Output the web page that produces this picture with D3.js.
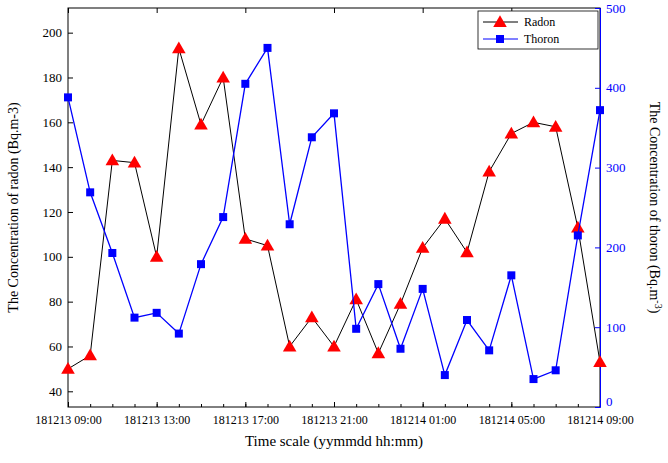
<!DOCTYPE html>
<html>
<head>
<meta charset="utf-8">
<style>
body{margin:0;background:#fff;}
text{font-family:"Liberation Serif","Times New Roman",serif;}
</style>
</head>
<body>
<svg id="chart" width="668" height="463"></svg>
<script src="https://d3js.org/d3.v7.min.js"></script>
<script>
// hours after 181213 09:00
var hours=d3.range(0,25);
var radon=[50,56,143,142,100,193,159,180,108,105,60,73,60,81,57,79,104,117,102,138,155,160,158,113,53];
var thoron=[388,269,193,112,118,92,179,238,405,450,229,338,368,98,154,73,148,40,109,71,165,35,46,215,372];
var xTickHours=[0,4,8,12,16,20,24];
var xTickLabels=["181213 09:00","181213 13:00","181213 17:00","181213 21:00","181214 01:00","181214 05:00","181214 09:00"];
var leftTicks=[40,60,80,100,120,140,160,180,200];
var rightTicks=[0,100,200,300,400,500];

var L=68,R=600,T=8,B=407;
var svg=d3.select("#chart");
var x=d3.scaleLinear().domain([0,24]).range([L,R]);
var yL=d3.scaleLinear().domain([33,211]).range([B,T]);
var yR=d3.scaleLinear().domain([0,500]).range([B,T]);

svg.append("rect").attr("x",L).attr("y",T).attr("width",R-L).attr("height",B-T)
  .attr("fill","none").attr("stroke","#000");

var serif="Liberation Serif, Times New Roman, serif";

// x axis
var xa=svg.append("g").attr("transform","translate(0,"+B+")")
  .call(d3.axisBottom(x).tickValues(xTickHours).tickSize(-5).tickPadding(8)
    .tickFormat(function(d,i){return xTickLabels[i];}));
xa.attr("font-family",serif).selectAll("text").attr("font-size",12).attr("fill","#000");
xa.select(".domain").remove();
svg.append("g").attr("transform","translate(0,"+B+")")
  .call(d3.axisBottom(x).tickValues(hours).tickSize(-3).tickFormat(""))
  .select(".domain").remove();
svg.append("g").attr("transform","translate(0,"+T+")")
  .call(d3.axisTop(x).tickValues(xTickHours).tickSize(-5).tickFormat(""))
  .select(".domain").remove();

// left axis
var la=svg.append("g").attr("transform","translate("+L+",0)")
  .call(d3.axisLeft(yL).tickValues(leftTicks).tickSize(-5).tickPadding(6));
la.attr("font-family",serif).selectAll("text").attr("font-size",13).attr("fill","#000");
la.select(".domain").remove();

// right axis (blue)
var ra=svg.append("g").attr("transform","translate("+R+",0)")
  .call(d3.axisRight(yR).tickValues(rightTicks).tickSize(-5).tickPadding(6));
ra.attr("font-family",serif).selectAll("text").attr("font-size",13).attr("fill","#0000ff");
ra.selectAll(".tick text").filter(function(d){return d===0;}).attr("dy","-0.1em");
ra.selectAll("line").attr("stroke","#0000ff");
ra.select(".domain").attr("stroke","#0000ff");

// titles
svg.append("text").attr("x",(L+R)/2).attr("y",446).attr("text-anchor","middle")
  .attr("font-size",15).text("Time scale (yymmdd hh:mm)");
svg.append("text").attr("transform","translate(18,"+(T+B)/2+") rotate(-90)")
  .attr("text-anchor","middle").attr("font-size",14).text("The Concentration of radon (Bq.m-3)");
var rt=svg.append("text").attr("transform","translate(650,"+(T+B)/2+") rotate(90)")
  .attr("text-anchor","middle").attr("font-size",14);
rt.append("tspan").text("The Concentration of thoron (Bq.m");
rt.append("tspan").attr("dy",-5).attr("font-size",10).text("-3");
rt.append("tspan").attr("dy",5).text(")");

// radon
svg.append("path").datum(radon).attr("fill","none").attr("stroke","#000").attr("stroke-width",1)
  .attr("d",d3.line().x(function(d,i){return x(hours[i]);}).y(function(d){return yL(d);}));
var tri=d3.symbol().type(d3.symbolTriangle).size(80);
svg.selectAll(".rad").data(radon).enter().append("path")
  .attr("transform",function(d,i){return "translate("+x(hours[i])+","+(yL(d)+1)+")";})
  .attr("d",tri).attr("fill","#ff0000");

// thoron
svg.append("path").datum(thoron).attr("fill","none").attr("stroke","#0000ff").attr("stroke-width",1.3)
  .attr("d",d3.line().x(function(d,i){return x(hours[i]);}).y(function(d){return yR(d);}));
svg.selectAll(".tho").data(thoron).enter().append("rect")
  .attr("x",function(d,i){return x(hours[i])-4;}).attr("y",function(d){return yR(d)-4;})
  .attr("width",8).attr("height",8).attr("fill","#0000ff");

// legend
var lg=svg.append("g").attr("transform","translate(478,11)");
lg.append("rect").attr("width",120).attr("height",38).attr("fill","#fff").attr("stroke","#000").attr("stroke-width",0.8);
lg.append("line").attr("x1",5).attr("x2",40).attr("y1",11).attr("y2",11).attr("stroke","#000");
lg.append("path").attr("transform","translate(22,12)").attr("d",tri).attr("fill","#ff0000");
lg.append("text").attr("x",46).attr("y",15).attr("font-size",12).text("Radon");
lg.append("line").attr("x1",5).attr("x2",40).attr("y1",28).attr("y2",28).attr("stroke","#0000ff");
lg.append("rect").attr("x",18).attr("y",24).attr("width",8).attr("height",8).attr("fill","#0000ff");
lg.append("text").attr("x",46).attr("y",32).attr("font-size",12).text("Thoron");
</script>
</body>
</html>
